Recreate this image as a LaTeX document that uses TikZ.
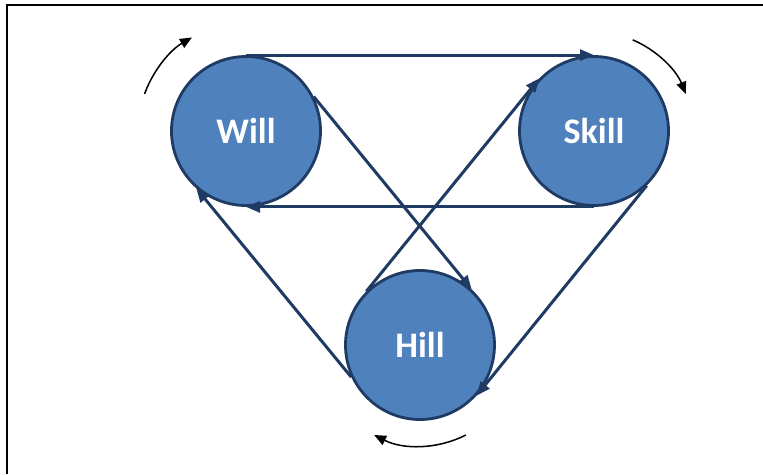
\documentclass[tikz,border=0pt]{standalone}
\usepackage{fontspec}
\setmainfont{Carlito}
\usetikzlibrary{arrows.meta}
\definecolor{circfill}{HTML}{4F81BD}
\definecolor{navy}{HTML}{1F3B64}
\begin{document}
\begin{tikzpicture}[x=1pt,y=1pt,
  bubble/.style={circle,draw=navy,fill=circfill,line width=2.8pt,minimum size=149pt,
    inner sep=0pt,text=white,font=\fontsize{36}{40}\selectfont\bfseries},
  link/.style={draw=navy,line width=3pt,-{Triangle[length=14pt,width=11pt]}},
  turn/.style={draw=black,line width=1.5pt,-{Triangle[length=12pt,width=10pt]}}]
\useasboundingbox (0,0) rectangle (763,474);
\draw[line width=2pt] (763,469) -- (7,469) -- (7,0);
\node[bubble] (will) at (246,343) {Will};
\node[bubble] (skill) at (594,343) {Skill};
\node[bubble] (hill) at (420,129) {Hill};
\draw[link] (will.north) -- (skill.north);
\draw[link] (skill.south) -- (will.south);
\draw[link] (will.27) -- (hill.47);
\draw[link] (hill.135) -- (skill.136);
\draw[link] (skill.-46) -- (hill.-42);
\draw[link] (hill.205) -- (will.229);
\draw[turn] ([shift={(160:108)}]will.center) arc[start angle=160,end angle=120,radius=108];
\draw[turn] ([shift={(67:99)}]skill.center) arc[start angle=67,end angle=22,radius=99];
\draw[turn] ([shift={(-63:101)}]hill.center) arc[start angle=-63,end angle=-117,radius=101];
\end{tikzpicture}
\end{document}
